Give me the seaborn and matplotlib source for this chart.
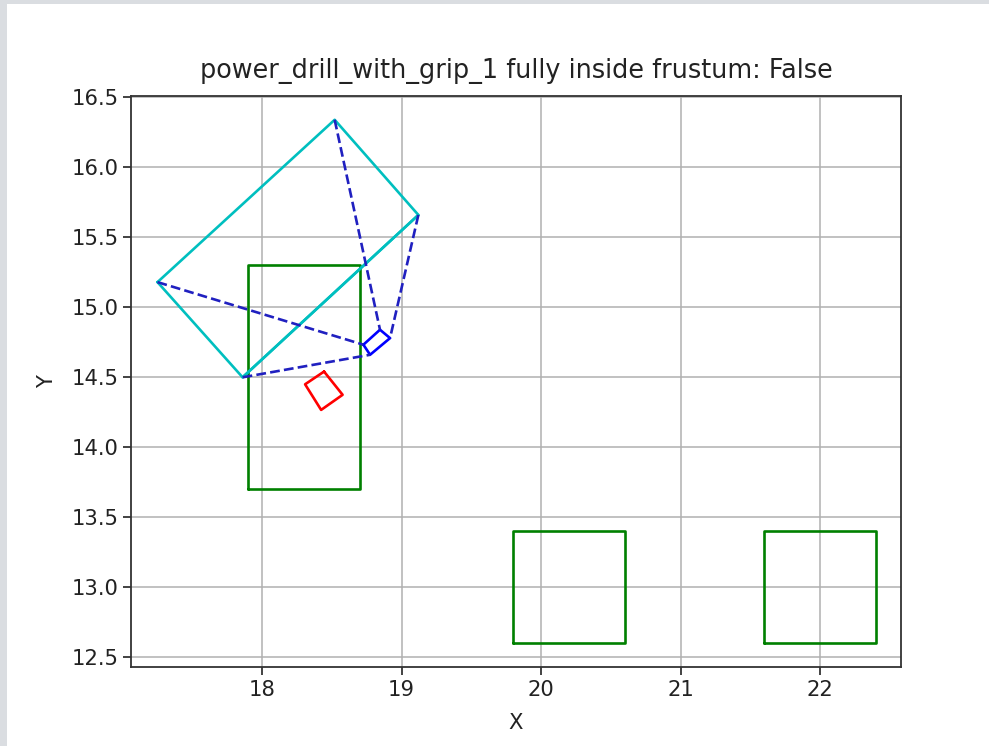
import numpy as np
import pandas as pd
import matplotlib
matplotlib.use("Agg")
import matplotlib.pyplot as plt
import seaborn as sns
from matplotlib.patches import Rectangle

# ---- data ----
far_x = [17.25, 18.52, 19.12, 17.86]
far_y = [15.18, 16.34, 15.66, 14.50]
near_x = [18.726, 18.845, 18.917, 18.774]
near_y = [14.733, 14.840, 14.780, 14.661]
obj_x = [18.444, 18.577, 18.423, 18.308]
obj_y = [14.541, 14.375, 14.267, 14.450]
# green boxes: (xmin, xmax, ymin, ymax)
box_xmin = [17.9, 19.8, 21.6]
box_xmax = [18.7, 20.6, 22.4]
box_ymin = [13.7, 12.6, 12.6]
box_ymax = [15.3, 13.4, 13.4]
title = "power_drill_with_grip_1 fully inside frustum: False"

sns.set_style("ticks")
plt.rcParams['font.family'] = ['DejaVu Sans']

fig = plt.figure(figsize=(9.89, 7.46), dpi=100, facecolor="#dadde1")
fig.patches.append(Rectangle((7 / 989, 0), 1, 1 - 4 / 746, transform=fig.transFigure,
                             facecolor="white", edgecolor="none", zorder=-10))
ax = fig.add_axes([131 / 989, 1 - 667 / 746, (901 - 131) / 989, (667 - 96) / 746])
ax.set_zorder(5)
ax.set_facecolor("white")

lw = 1.9

def line(xs, ys, color, ls="-"):
    df = pd.DataFrame({"x": xs, "y": ys, "o": range(len(xs))})
    sns.lineplot(data=df, x="x", y="y", sort=False, estimator=None, color=color,
                 linestyle=ls, linewidth=lw, ax=ax)

# green boxes
for x0, x1, y0, y1 in zip(box_xmin, box_xmax, box_ymin, box_ymax):
    line([x0, x1, x1, x0, x0], [y0, y0, y1, y1, y0], "g")

# far plane (cyan) with diagonal
line(far_x + [far_x[0]], far_y + [far_y[0]], "c")
line([far_x[3], far_x[2]], [far_y[3], far_y[2]], "c")

# near plane (blue)
line(near_x + [near_x[0]], near_y + [near_y[0]], "b")

# dashed edges
for i in range(4):
    line([far_x[i], near_x[i]], [far_y[i], near_y[i]], "#2020c0", ls="--")

# object (red)
line(obj_x + [obj_x[0]], obj_y + [obj_y[0]], "r")

ax.set_xlim(17.06, 22.58)
ax.set_ylim(12.43, 16.51)
ax.set_xticks([18, 19, 20, 21, 22])
ax.set_yticks(np.arange(12.5, 16.51, 0.5))
ax.set_yticklabels([f"{v:.1f}" for v in np.arange(12.5, 16.51, 0.5)])
ax.grid(True, color="#b0b0b0", linewidth=1.1)
ax.set_axisbelow(True)
for s in ax.spines.values():
    s.set_visible(True)
    s.set_color("#333333")
    s.set_linewidth(1.3)
ax.tick_params(labelsize=15.2, length=5.5, width=1.2, colors="#222222")
ax.set_xlabel("X", fontsize=15.2, color="#222222", labelpad=10)
ax.set_ylabel("Y", fontsize=15.2, color="#222222", labelpad=10)
ax.set_title(title, fontsize=18.4, color="#222222", pad=13)

fig.savefig("out.png", dpi=100, facecolor=fig.get_facecolor())
